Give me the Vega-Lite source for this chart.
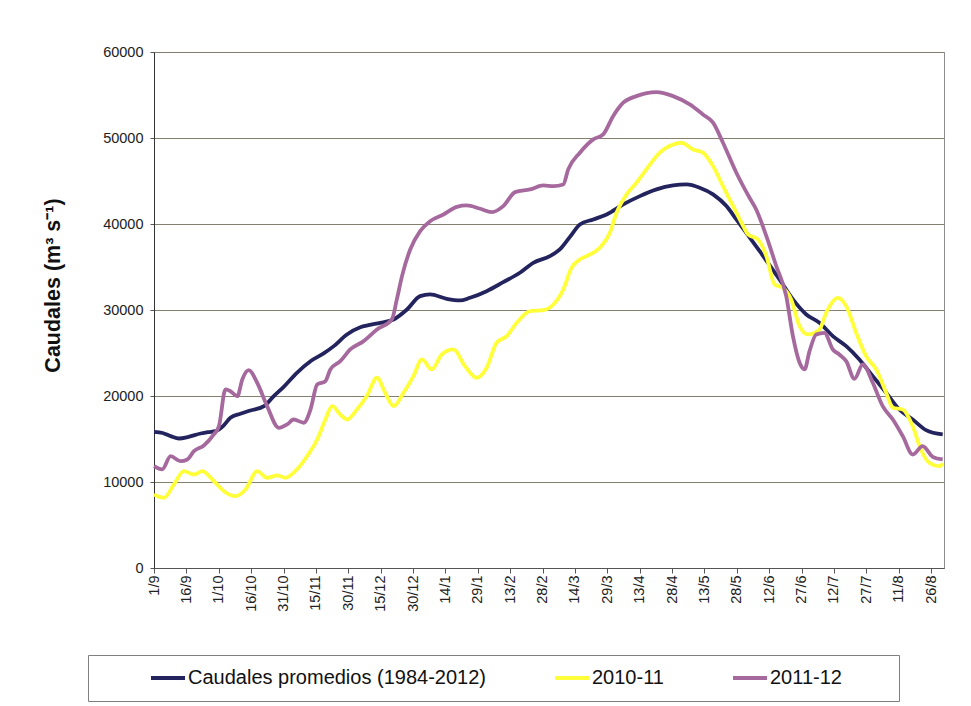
{
  "$schema": "https://vega.github.io/schema/vega-lite/v6.json",
  "width": 790,
  "height": 516,
  "autosize": {"type": "none"},
  "padding": {"left": 154, "top": 52, "right": 27, "bottom": 138},
  "background": "white",
  "config": {
    "font": "Liberation Sans",
    "view": {"stroke": "#8c8c8c", "strokeWidth": 1}
  },
  "data": {
    "values": [
      {"dia": 0, "serie": "Caudales promedios (1984-2012)", "caudal": 15840},
      {"dia": 4, "serie": "Caudales promedios (1984-2012)", "caudal": 15700},
      {"dia": 8, "serie": "Caudales promedios (1984-2012)", "caudal": 15300},
      {"dia": 11.6, "serie": "Caudales promedios (1984-2012)", "caudal": 15060},
      {"dia": 16, "serie": "Caudales promedios (1984-2012)", "caudal": 15250},
      {"dia": 21.6, "serie": "Caudales promedios (1984-2012)", "caudal": 15640},
      {"dia": 25, "serie": "Caudales promedios (1984-2012)", "caudal": 15800},
      {"dia": 28.5, "serie": "Caudales promedios (1984-2012)", "caudal": 15910},
      {"dia": 32, "serie": "Caudales promedios (1984-2012)", "caudal": 16500},
      {"dia": 35.4, "serie": "Caudales promedios (1984-2012)", "caudal": 17470},
      {"dia": 40, "serie": "Caudales promedios (1984-2012)", "caudal": 17930},
      {"dia": 44.7, "serie": "Caudales promedios (1984-2012)", "caudal": 18320},
      {"dia": 51, "serie": "Caudales promedios (1984-2012)", "caudal": 18820},
      {"dia": 55.5, "serie": "Caudales promedios (1984-2012)", "caudal": 19980},
      {"dia": 60.1, "serie": "Caudales promedios (1984-2012)", "caudal": 21070},
      {"dia": 66.2, "serie": "Caudales promedios (1984-2012)", "caudal": 22700},
      {"dia": 72.5, "serie": "Caudales promedios (1984-2012)", "caudal": 24050},
      {"dia": 78.6, "serie": "Caudales promedios (1984-2012)", "caudal": 24950},
      {"dia": 83.3, "serie": "Caudales promedios (1984-2012)", "caudal": 25800},
      {"dia": 89.4, "serie": "Caudales promedios (1984-2012)", "caudal": 27160},
      {"dia": 95.6, "serie": "Caudales promedios (1984-2012)", "caudal": 28000},
      {"dia": 99.4, "serie": "Caudales promedios (1984-2012)", "caudal": 28240},
      {"dia": 104.8, "serie": "Caudales promedios (1984-2012)", "caudal": 28510},
      {"dia": 111, "serie": "Caudales promedios (1984-2012)", "caudal": 28900},
      {"dia": 117.2, "serie": "Caudales promedios (1984-2012)", "caudal": 30060},
      {"dia": 123.3, "serie": "Caudales promedios (1984-2012)", "caudal": 31610},
      {"dia": 127.9, "serie": "Caudales promedios (1984-2012)", "caudal": 31810},
      {"dia": 135.6, "serie": "Caudales promedios (1984-2012)", "caudal": 31300},
      {"dia": 141.8, "serie": "Caudales promedios (1984-2012)", "caudal": 31110},
      {"dia": 146.4, "serie": "Caudales promedios (1984-2012)", "caudal": 31420},
      {"dia": 154.1, "serie": "Caudales promedios (1984-2012)", "caudal": 32190},
      {"dia": 161.8, "serie": "Caudales promedios (1984-2012)", "caudal": 33240},
      {"dia": 169.5, "serie": "Caudales promedios (1984-2012)", "caudal": 34330},
      {"dia": 175.7, "serie": "Caudales promedios (1984-2012)", "caudal": 35490},
      {"dia": 183.4, "serie": "Caudales promedios (1984-2012)", "caudal": 36260},
      {"dia": 188, "serie": "Caudales promedios (1984-2012)", "caudal": 37040},
      {"dia": 192.7, "serie": "Caudales promedios (1984-2012)", "caudal": 38500},
      {"dia": 197.3, "serie": "Caudales promedios (1984-2012)", "caudal": 39950},
      {"dia": 203.5, "serie": "Caudales promedios (1984-2012)", "caudal": 40530},
      {"dia": 209.7, "serie": "Caudales promedios (1984-2012)", "caudal": 41110},
      {"dia": 217.4, "serie": "Caudales promedios (1984-2012)", "caudal": 42280},
      {"dia": 225.1, "serie": "Caudales promedios (1984-2012)", "caudal": 43240},
      {"dia": 232.8, "serie": "Caudales promedios (1984-2012)", "caudal": 44020},
      {"dia": 240.5, "serie": "Caudales promedios (1984-2012)", "caudal": 44480},
      {"dia": 246.7, "serie": "Caudales promedios (1984-2012)", "caudal": 44600},
      {"dia": 252.8, "serie": "Caudales promedios (1984-2012)", "caudal": 44220},
      {"dia": 259, "serie": "Caudales promedios (1984-2012)", "caudal": 43440},
      {"dia": 265.2, "serie": "Caudales promedios (1984-2012)", "caudal": 42080},
      {"dia": 269.8, "serie": "Caudales promedios (1984-2012)", "caudal": 40530},
      {"dia": 274.4, "serie": "Caudales promedios (1984-2012)", "caudal": 38980},
      {"dia": 280.6, "serie": "Caudales promedios (1984-2012)", "caudal": 36840},
      {"dia": 289.8, "serie": "Caudales promedios (1984-2012)", "caudal": 33550},
      {"dia": 296, "serie": "Caudales promedios (1984-2012)", "caudal": 31230},
      {"dia": 302.2, "serie": "Caudales promedios (1984-2012)", "caudal": 29480},
      {"dia": 308.3, "serie": "Caudales promedios (1984-2012)", "caudal": 28510},
      {"dia": 314.5, "serie": "Caudales promedios (1984-2012)", "caudal": 26960},
      {"dia": 320.7, "serie": "Caudales promedios (1984-2012)", "caudal": 25800},
      {"dia": 326.8, "serie": "Caudales promedios (1984-2012)", "caudal": 24250},
      {"dia": 333, "serie": "Caudales promedios (1984-2012)", "caudal": 22310},
      {"dia": 339.2, "serie": "Caudales promedios (1984-2012)", "caudal": 20380},
      {"dia": 345.3, "serie": "Caudales promedios (1984-2012)", "caudal": 18430},
      {"dia": 351.5, "serie": "Caudales promedios (1984-2012)", "caudal": 17270},
      {"dia": 357.7, "serie": "Caudales promedios (1984-2012)", "caudal": 16030},
      {"dia": 365.4, "serie": "Caudales promedios (1984-2012)", "caudal": 15530},

      {"dia": 0, "serie": "2010-11", "caudal": 8550},
      {"dia": 4.6, "serie": "2010-11", "caudal": 8160},
      {"dia": 9.2, "serie": "2010-11", "caudal": 9710},
      {"dia": 13.8, "serie": "2010-11", "caudal": 11260},
      {"dia": 18.5, "serie": "2010-11", "caudal": 10870},
      {"dia": 22.4, "serie": "2010-11", "caudal": 11260},
      {"dia": 27, "serie": "2010-11", "caudal": 10290},
      {"dia": 32.4, "serie": "2010-11", "caudal": 8930},
      {"dia": 37.7, "serie": "2010-11", "caudal": 8350},
      {"dia": 42.4, "serie": "2010-11", "caudal": 9130},
      {"dia": 47.8, "serie": "2010-11", "caudal": 11260},
      {"dia": 52.4, "serie": "2010-11", "caudal": 10490},
      {"dia": 57.1, "serie": "2010-11", "caudal": 10760},
      {"dia": 60.9, "serie": "2010-11", "caudal": 10490},
      {"dia": 66.2, "serie": "2010-11", "caudal": 11460},
      {"dia": 70.9, "serie": "2010-11", "caudal": 13000},
      {"dia": 75.6, "serie": "2010-11", "caudal": 14940},
      {"dia": 79.4, "serie": "2010-11", "caudal": 17270},
      {"dia": 82.5, "serie": "2010-11", "caudal": 18820},
      {"dia": 86.3, "serie": "2010-11", "caudal": 17850},
      {"dia": 89.4, "serie": "2010-11", "caudal": 17270},
      {"dia": 94, "serie": "2010-11", "caudal": 18430},
      {"dia": 98.6, "serie": "2010-11", "caudal": 20000},
      {"dia": 103.3, "serie": "2010-11", "caudal": 22120},
      {"dia": 107.1, "serie": "2010-11", "caudal": 20380},
      {"dia": 111, "serie": "2010-11", "caudal": 18820},
      {"dia": 115.6, "serie": "2010-11", "caudal": 20380},
      {"dia": 120.2, "serie": "2010-11", "caudal": 22310},
      {"dia": 124.1, "serie": "2010-11", "caudal": 24250},
      {"dia": 128.7, "serie": "2010-11", "caudal": 23090},
      {"dia": 133.3, "serie": "2010-11", "caudal": 24830},
      {"dia": 138.7, "serie": "2010-11", "caudal": 25410},
      {"dia": 144.1, "serie": "2010-11", "caudal": 23470},
      {"dia": 149.5, "serie": "2010-11", "caudal": 22120},
      {"dia": 154.1, "serie": "2010-11", "caudal": 23280},
      {"dia": 158.7, "serie": "2010-11", "caudal": 26190},
      {"dia": 163.4, "serie": "2010-11", "caudal": 26960},
      {"dia": 168, "serie": "2010-11", "caudal": 28510},
      {"dia": 174.2, "serie": "2010-11", "caudal": 29870},
      {"dia": 180.4, "serie": "2010-11", "caudal": 29980},
      {"dia": 185, "serie": "2010-11", "caudal": 30640},
      {"dia": 189.6, "serie": "2010-11", "caudal": 32390},
      {"dia": 193.4, "serie": "2010-11", "caudal": 34900},
      {"dia": 197.3, "serie": "2010-11", "caudal": 35880},
      {"dia": 200.4, "serie": "2010-11", "caudal": 36260},
      {"dia": 206.5, "serie": "2010-11", "caudal": 37240},
      {"dia": 211.2, "serie": "2010-11", "caudal": 38980},
      {"dia": 214.3, "serie": "2010-11", "caudal": 41310},
      {"dia": 218.9, "serie": "2010-11", "caudal": 43440},
      {"dia": 223.5, "serie": "2010-11", "caudal": 44800},
      {"dia": 228.1, "serie": "2010-11", "caudal": 46350},
      {"dia": 234.3, "serie": "2010-11", "caudal": 48290},
      {"dia": 240.5, "serie": "2010-11", "caudal": 49250},
      {"dia": 244.3, "serie": "2010-11", "caudal": 49450},
      {"dia": 249.7, "serie": "2010-11", "caudal": 48670},
      {"dia": 254.3, "serie": "2010-11", "caudal": 48290},
      {"dia": 259, "serie": "2010-11", "caudal": 46730},
      {"dia": 263.6, "serie": "2010-11", "caudal": 44400},
      {"dia": 268.3, "serie": "2010-11", "caudal": 42080},
      {"dia": 272.9, "serie": "2010-11", "caudal": 39800},
      {"dia": 275.2, "serie": "2010-11", "caudal": 38790},
      {"dia": 279.8, "serie": "2010-11", "caudal": 38200},
      {"dia": 283.7, "serie": "2010-11", "caudal": 36260},
      {"dia": 287.5, "serie": "2010-11", "caudal": 32970},
      {"dia": 291.3, "serie": "2010-11", "caudal": 32590},
      {"dia": 295.2, "serie": "2010-11", "caudal": 31230},
      {"dia": 299.1, "serie": "2010-11", "caudal": 28120},
      {"dia": 302.9, "serie": "2010-11", "caudal": 27160},
      {"dia": 308.3, "serie": "2010-11", "caudal": 27740},
      {"dia": 311.4, "serie": "2010-11", "caudal": 29680},
      {"dia": 316.8, "serie": "2010-11", "caudal": 31420},
      {"dia": 320.7, "serie": "2010-11", "caudal": 30450},
      {"dia": 325.3, "serie": "2010-11", "caudal": 27350},
      {"dia": 329.9, "serie": "2010-11", "caudal": 24630},
      {"dia": 334.6, "serie": "2010-11", "caudal": 23090},
      {"dia": 339.2, "serie": "2010-11", "caudal": 20380},
      {"dia": 342.3, "serie": "2010-11", "caudal": 18630},
      {"dia": 346.9, "serie": "2010-11", "caudal": 18430},
      {"dia": 351.5, "serie": "2010-11", "caudal": 16490},
      {"dia": 355.3, "serie": "2010-11", "caudal": 13780},
      {"dia": 359.2, "serie": "2010-11", "caudal": 12230},
      {"dia": 363.8, "serie": "2010-11", "caudal": 11840},
      {"dia": 365.6, "serie": "2010-11", "caudal": 12150},

      {"dia": 0, "serie": "2011-12", "caudal": 11840},
      {"dia": 3.8, "serie": "2011-12", "caudal": 11460},
      {"dia": 7.7, "serie": "2011-12", "caudal": 13000},
      {"dia": 12.3, "serie": "2011-12", "caudal": 12420},
      {"dia": 15.4, "serie": "2011-12", "caudal": 12620},
      {"dia": 18.5, "serie": "2011-12", "caudal": 13580},
      {"dia": 23.1, "serie": "2011-12", "caudal": 14250},
      {"dia": 27.7, "serie": "2011-12", "caudal": 15530},
      {"dia": 30.1, "serie": "2011-12", "caudal": 16490},
      {"dia": 33.1, "serie": "2011-12", "caudal": 20760},
      {"dia": 35.4, "serie": "2011-12", "caudal": 20560},
      {"dia": 38.6, "serie": "2011-12", "caudal": 19980},
      {"dia": 40.9, "serie": "2011-12", "caudal": 21920},
      {"dia": 43.9, "serie": "2011-12", "caudal": 23000},
      {"dia": 47.8, "serie": "2011-12", "caudal": 21540},
      {"dia": 52.4, "serie": "2011-12", "caudal": 18820},
      {"dia": 57.8, "serie": "2011-12", "caudal": 16300},
      {"dia": 61.7, "serie": "2011-12", "caudal": 16690},
      {"dia": 64.7, "serie": "2011-12", "caudal": 17270},
      {"dia": 69.4, "serie": "2011-12", "caudal": 16890},
      {"dia": 72.5, "serie": "2011-12", "caudal": 18430},
      {"dia": 75.6, "serie": "2011-12", "caudal": 21340},
      {"dia": 79.4, "serie": "2011-12", "caudal": 21720},
      {"dia": 81.7, "serie": "2011-12", "caudal": 23090},
      {"dia": 86.3, "serie": "2011-12", "caudal": 24050},
      {"dia": 90.9, "serie": "2011-12", "caudal": 25410},
      {"dia": 97.1, "serie": "2011-12", "caudal": 26380},
      {"dia": 103.3, "serie": "2011-12", "caudal": 27740},
      {"dia": 110.2, "serie": "2011-12", "caudal": 28900},
      {"dia": 112.5, "serie": "2011-12", "caudal": 31230},
      {"dia": 114.9, "serie": "2011-12", "caudal": 33940},
      {"dia": 118.7, "serie": "2011-12", "caudal": 37040},
      {"dia": 123.3, "serie": "2011-12", "caudal": 39170},
      {"dia": 127.9, "serie": "2011-12", "caudal": 40330},
      {"dia": 134.1, "serie": "2011-12", "caudal": 41110},
      {"dia": 140.3, "serie": "2011-12", "caudal": 42000},
      {"dia": 144.9, "serie": "2011-12", "caudal": 42160},
      {"dia": 151.1, "serie": "2011-12", "caudal": 41770},
      {"dia": 156.5, "serie": "2011-12", "caudal": 41380},
      {"dia": 161.8, "serie": "2011-12", "caudal": 42080},
      {"dia": 167.3, "serie": "2011-12", "caudal": 43710},
      {"dia": 174.2, "serie": "2011-12", "caudal": 44020},
      {"dia": 180.4, "serie": "2011-12", "caudal": 44480},
      {"dia": 185, "serie": "2011-12", "caudal": 44400},
      {"dia": 189.6, "serie": "2011-12", "caudal": 44600},
      {"dia": 191.9, "serie": "2011-12", "caudal": 46350},
      {"dia": 197.3, "serie": "2011-12", "caudal": 48290},
      {"dia": 203.5, "serie": "2011-12", "caudal": 49840},
      {"dia": 208.1, "serie": "2011-12", "caudal": 50420},
      {"dia": 212.7, "serie": "2011-12", "caudal": 52540},
      {"dia": 217.4, "serie": "2011-12", "caudal": 54100},
      {"dia": 223.5, "serie": "2011-12", "caudal": 54870},
      {"dia": 232.8, "serie": "2011-12", "caudal": 55340},
      {"dia": 240.5, "serie": "2011-12", "caudal": 54870},
      {"dia": 248.2, "serie": "2011-12", "caudal": 53900},
      {"dia": 254.3, "serie": "2011-12", "caudal": 52740},
      {"dia": 259, "serie": "2011-12", "caudal": 51780},
      {"dia": 263.6, "serie": "2011-12", "caudal": 49450},
      {"dia": 269.8, "serie": "2011-12", "caudal": 45960},
      {"dia": 275.9, "serie": "2011-12", "caudal": 43050},
      {"dia": 279, "serie": "2011-12", "caudal": 41690},
      {"dia": 283.7, "serie": "2011-12", "caudal": 38590},
      {"dia": 288.3, "serie": "2011-12", "caudal": 35100},
      {"dia": 292.9, "serie": "2011-12", "caudal": 31610},
      {"dia": 296, "serie": "2011-12", "caudal": 26960},
      {"dia": 299.1, "serie": "2011-12", "caudal": 23860},
      {"dia": 301.4, "serie": "2011-12", "caudal": 23090},
      {"dia": 303.7, "serie": "2011-12", "caudal": 25210},
      {"dia": 306.8, "serie": "2011-12", "caudal": 27160},
      {"dia": 310.6, "serie": "2011-12", "caudal": 27350},
      {"dia": 314.5, "serie": "2011-12", "caudal": 25410},
      {"dia": 317.5, "serie": "2011-12", "caudal": 24830},
      {"dia": 320.7, "serie": "2011-12", "caudal": 24050},
      {"dia": 324.5, "serie": "2011-12", "caudal": 22000},
      {"dia": 328.4, "serie": "2011-12", "caudal": 23670},
      {"dia": 333, "serie": "2011-12", "caudal": 21540},
      {"dia": 337.6, "serie": "2011-12", "caudal": 18820},
      {"dia": 342.3, "serie": "2011-12", "caudal": 17270},
      {"dia": 346.9, "serie": "2011-12", "caudal": 15330},
      {"dia": 351.5, "serie": "2011-12", "caudal": 13200},
      {"dia": 356.1, "serie": "2011-12", "caudal": 14170},
      {"dia": 360.8, "serie": "2011-12", "caudal": 12930},
      {"dia": 365.4, "serie": "2011-12", "caudal": 12620}
    ]
  },
  "mark": {"type": "line", "strokeWidth": 3.8, "interpolate": "monotone"},
  "encoding": {
    "x": {
      "field": "dia",
      "type": "quantitative",
      "scale": {"domain": [0, 366], "nice": false, "zero": false},
      "axis": {
        "values": [0, 15, 30, 45, 60, 75, 90, 105, 120, 135, 150, 165, 180, 195, 210, 225, 240, 255, 270, 285, 300, 315, 330, 345, 360],
        "labelExpr": "['1/9','16/9','1/10','16/10','31/10','15/11','30/11','15/12','30/12','14/1','29/1','13/2','28/2','14/3','29/3','13/4','28/4','13/5','28/5','12/6','27/6','12/7','27/7','11/8','26/8'][round(datum.value/15)]",
        "labelAngle": 270,
        "labelAlign": "right",
        "labelBaseline": "middle",
        "labelFontSize": 14.5,
        "labelColor": "#222222",
        "labelPadding": 2,
        "labelOverlap": false,
        "labelFlush": false,
        "grid": false,
        "title": null,
        "domainColor": "#555555",
        "tickColor": "#555555",
        "tickSize": 5
      }
    },
    "y": {
      "field": "caudal",
      "type": "quantitative",
      "scale": {"domain": [0, 60000], "nice": false},
      "axis": {
        "values": [0, 10000, 20000, 30000, 40000, 50000, 60000],
        "format": "d",
        "labelFontSize": 14.5,
        "labelColor": "#222222",
        "labelPadding": 7,
        "tickSize": 4,
        "tickColor": "#555555",
        "domainColor": "#333333",
        "gridColor": "#857f6e",
        "gridWidth": 1.2,
        "title": "Caudales (m³ s⁻¹)",
        "titleFontSize": 21.5,
        "titleFontWeight": "bold",
        "titleColor": "#111111",
        "titleAngle": 270,
        "titleAlign": "center",
        "titleBaseline": "alphabetic",
        "titleX": -95,
        "titleY": 233
      }
    },
    "color": {
      "field": "serie",
      "type": "nominal",
      "scale": {
        "domain": ["Caudales promedios (1984-2012)", "2010-11", "2011-12"],
        "range": ["#23235e", "#ffff3a", "#a6699e"]
      },
      "legend": {
        "orient": "none",
        "legendX": -66,
        "legendY": 603,
        "direction": "horizontal",
        "columns": 3,
        "columnPadding": 67,
        "clipHeight": 22,
        "title": "\u00a0",
        "titleOrient": "left",
        "titlePadding": 49,
        "titleFontSize": 20,
        "titleBaseline": "middle",
        "padding": 12,
        "strokeColor": "#7f7f7f",
        "fillColor": "white",
        "symbolType": "stroke",
        "symbolSize": 1156,
        "symbolStrokeWidth": 4,
        "labelFontSize": 20,
        "labelColor": "#111111",
        "labelOffset": 1,
        "labelLimit": 600,
        "labelExpr": "datum.label == '2011-12' ? datum.label + '\u2800\u2800\u2800' : datum.label"
      }
    }
  }
}
